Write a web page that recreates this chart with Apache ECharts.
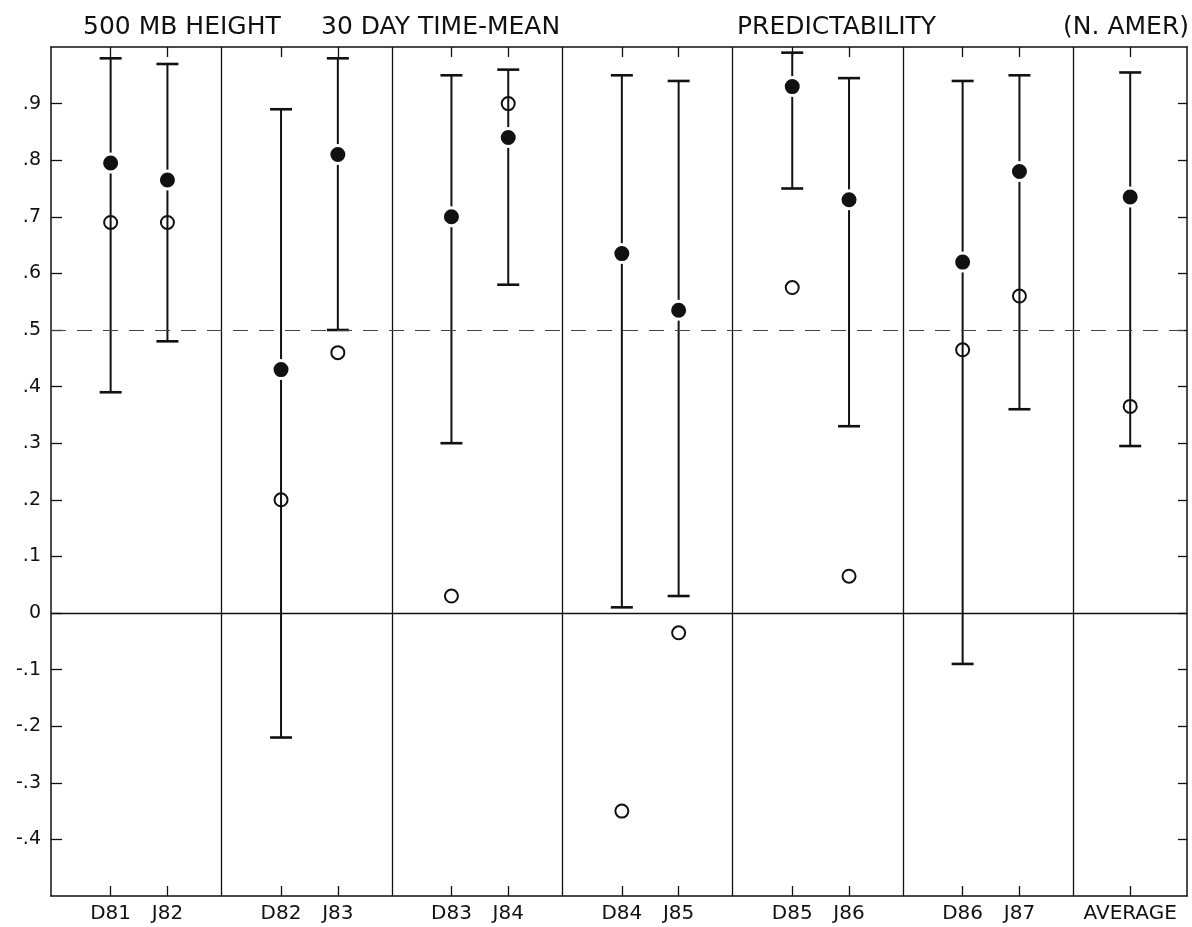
<!DOCTYPE html>
<html>
<head>
<meta charset="utf-8">
<script src="https://cdn.jsdelivr.net/npm/echarts@6/dist/echarts.min.js"></script>
<style>
	html, body { margin: 0; padding: 0; background: #fff; }
	#chart { width: 1192px; height: 927px; }
</style>
</head>
<body>
<div id="chart"></div>
<script>
// cases
const cases = ['D81', 'J82', 'D82', 'J83', 'D83', 'J84', 'D84', 'J85', 'D85', 'J86', 'D86', 'J87', 'AVERAGE']
const upper = [0.98, 0.97, 0.89, 0.98, 0.95, 0.96, 0.95, 0.94, 0.99, 0.945, 0.94, 0.95, 0.955]
const lower = [0.39, 0.48, -0.22, 0.50, 0.30, 0.58, 0.01, 0.03, 0.75, 0.33, -0.09, 0.36, 0.295]
const filled = [0.795, 0.765, 0.43, 0.81, 0.70, 0.84, 0.635, 0.535, 0.93, 0.73, 0.62, 0.78, 0.735]
const open = [0.69, 0.69, 0.20, 0.46, 0.03, 0.90, -0.35, -0.035, 0.575, 0.065, 0.465, 0.56, 0.365]

const yTickValues = [-0.4, -0.3, -0.2, -0.1, 0, 0.1, 0.2, 0.3, 0.4, 0.5, 0.6, 0.7, 0.8, 0.9]
const yTickLabels = ['-.4', '-.3', '-.2', '-.1', '0', '.1', '.2', '.3', '.4', '.5', '.6', '.7', '.8', '.9']

const ink = '#111'
const font = 'DejaVu Sans'

// two cases per winter, three slots per winter panel (average sits alone in the last one)
const xPos = cases.map((c, i) => i === 12 ? 19 : 3 * Math.floor(i / 2) + 1.05 + (i % 2))
const separators = [3, 6, 9, 12, 15, 18]
const labelAt = {}
xPos.forEach((x, i) => { labelAt[x.toFixed(2)] = cases[i] })

const chart = echarts.init(document.getElementById('chart'))

const titleStyle = { fontFamily: font, fontSize: 25, fontWeight: 'normal', color: ink }

const option = {
	animation: false,
	title: [
		{ text: '500 MB HEIGHT', left: 83, top: 15, padding: 0, textStyle: titleStyle },
		{ text: '30 DAY TIME-MEAN', left: 321, top: 15, padding: 0, textStyle: titleStyle },
		{ text: 'PREDICTABILITY', left: 737, top: 15, padding: 0, textStyle: titleStyle },
		{ text: '(N. AMER)', right: 3, top: 15, padding: 0, textStyle: titleStyle }
	],
	grid: { left: 51, right: 5, top: 47, bottom: 31 },
	xAxis: [
		{
			type: 'value',
			min: 0,
			max: 20,
			position: 'bottom',
			axisLine: { onZero: false, lineStyle: { color: ink, width: 1.5 } },
			axisTick: { inside: true, length: 10, customValues: xPos, lineStyle: { color: ink, width: 1.3 } },
			axisLabel: {
				customValues: xPos,
				formatter: v => labelAt[v.toFixed(2)] || '',
				color: ink, fontFamily: font, fontSize: 20, margin: 8
			},
			splitLine: { show: false }
		},
		{
			type: 'value',
			min: 0,
			max: 20,
			position: 'top',
			axisLine: { onZero: false, lineStyle: { color: ink, width: 1.5 } },
			axisTick: { inside: true, length: 10, customValues: xPos, lineStyle: { color: ink, width: 1.3 } },
			axisLabel: { show: false },
			splitLine: { show: false }
		}
	],
	yAxis: [
		{
			type: 'value',
			min: -0.5,
			max: 1.0,
			position: 'left',
			axisLine: { show: true, onZero: false, lineStyle: { color: ink, width: 1.5 } },
			axisTick: { show: true, inside: true, length: 11, customValues: yTickValues, lineStyle: { color: ink, width: 1.3 } },
			axisLabel: {
				customValues: yTickValues,
				formatter: v => {
					const k = yTickValues.findIndex(t => Math.abs(t - v) < 1e-6)
					return k >= 0 ? yTickLabels[k] : ''
				},
				color: ink, fontFamily: font, fontSize: 19, margin: 10
			},
			splitLine: { show: false }
		},
		{
			type: 'value',
			min: -0.5,
			max: 1.0,
			position: 'right',
			axisLine: { show: true, onZero: false, lineStyle: { color: ink, width: 1.5 } },
			axisTick: { show: true, inside: true, length: 9, customValues: yTickValues, lineStyle: { color: ink, width: 1.3 } },
			axisLabel: { show: false },
			splitLine: { show: false }
		}
	],
	series: [
		{
			name: 'range',
			type: 'custom',
			data: xPos.map((x, i) => [x, lower[i], upper[i]]),
			encode: { x: 0, y: [1, 2] },
			renderItem: (params, api) => {
				const x = api.value(0)
				const lo = api.coord([x, api.value(1)])
				const hi = api.coord([x, api.value(2)])
				const half = 11
				return {
					type: 'group',
					children: [
						{ type: 'line', shape: { x1: hi[0], y1: hi[1], x2: lo[0], y2: lo[1] }, style: { stroke: ink, lineWidth: 2 } },
						{ type: 'line', shape: { x1: hi[0] - half, y1: hi[1], x2: hi[0] + half, y2: hi[1] }, style: { stroke: ink, lineWidth: 2.6 } },
						{ type: 'line', shape: { x1: lo[0] - half, y1: lo[1], x2: lo[0] + half, y2: lo[1] }, style: { stroke: ink, lineWidth: 2.6 } }
					]
				}
			},
			markLine: {
				silent: true,
				symbol: 'none',
				label: { show: false },
				lineStyle: { color: ink, width: 1.3, type: 'solid' },
				data: [
					...separators.map(v => ({ xAxis: v })),
					{ yAxis: 0 },
					{ yAxis: 0.5, lineStyle: { color: '#444', width: 1.2, type: [15, 11] } }
				]
			},
			z: 2
		},
		{
			name: 'filled',
			type: 'scatter',
			data: xPos.map((x, i) => [x, filled[i]]),
			symbol: 'circle',
			symbolSize: 18,
			itemStyle: { color: ink, borderColor: '#fff', borderWidth: 3, opacity: 1 },
			z: 3
		},
		{
			name: 'open',
			type: 'scatter',
			data: xPos.map((x, i) => [x, open[i]]),
			symbol: 'circle',
			symbolSize: 13,
			itemStyle: { color: 'rgba(0,0,0,0)', borderColor: ink, borderWidth: 2, opacity: 1 },
			z: 3
		}
	]
}

chart.setOption(option)
</script>
</body>
</html>
